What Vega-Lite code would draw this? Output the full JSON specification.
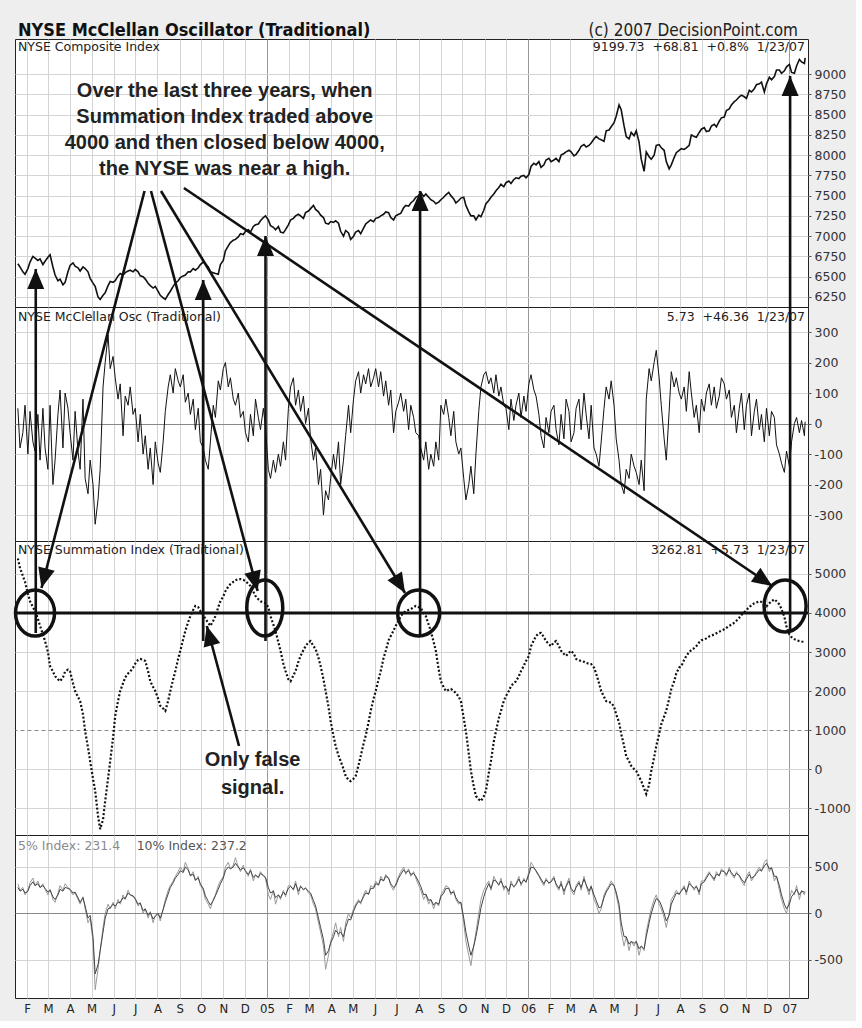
{
"$schema":"https://vega.github.io/schema/vega-lite/v6.json",
"background":"#eeeeee",
"padding":{"left":8,"top":21,"right":5,"bottom":5},
"bounds":"flush",
"spacing":0,
"config":{"view":{"stroke":"#222","strokeWidth":1,"fill":"white"},"axis":{"labelFont":"DejaVu Sans","labelFontSize":12.5,"labelColor":"#333","tickColor":"#555","domain":false,"labelOverlap":false}},
"datasets":{
"m":[
{"d":"2004-01-19","n":6660,"o":50,"s":5400,"a":320,"b":280},
{"d":"2004-01-22","n":6620,"o":-80,"s":5150,"a":250,"b":240},
{"d":"2004-01-26","n":6560,"o":-30,"s":4950,"a":280,"b":260},
{"d":"2004-01-29","n":6530,"o":60,"s":4800,"a":200,"b":220},
{"d":"2004-02-02","n":6600,"o":-100,"s":4500,"a":250,"b":240},
{"d":"2004-02-05","n":6680,"o":40,"s":4300,"a":330,"b":300},
{"d":"2004-02-09","n":6750,"o":-60,"s":4150,"a":380,"b":340},
{"d":"2004-02-12","n":6730,"o":-90,"s":4050,"a":300,"b":300},
{"d":"2004-02-16","n":6700,"o":30,"s":3850,"a":350,"b":320},
{"d":"2004-02-19","n":6720,"o":-120,"s":3670,"a":280,"b":280},
{"d":"2004-02-23","n":6650,"o":50,"s":3450,"a":320,"b":300},
{"d":"2004-02-26","n":6690,"o":-80,"s":3280,"a":260,"b":270},
{"d":"2004-03-01","n":6740,"o":-150,"s":3000,"a":200,"b":230},
{"d":"2004-03-04","n":6770,"o":60,"s":2640,"a":260,"b":250},
{"d":"2004-03-08","n":6620,"o":-200,"s":2500,"a":150,"b":180},
{"d":"2004-03-11","n":6520,"o":-120,"s":2380,"a":120,"b":150},
{"d":"2004-03-15","n":6450,"o":30,"s":2300,"a":220,"b":200},
{"d":"2004-03-18","n":6470,"o":110,"s":2250,"a":300,"b":260},
{"d":"2004-03-22","n":6400,"o":-80,"s":2350,"a":250,"b":240},
{"d":"2004-03-25","n":6430,"o":100,"s":2500,"a":320,"b":280},
{"d":"2004-03-29","n":6560,"o":50,"s":2550,"a":280,"b":270},
{"d":"2004-04-01","n":6640,"o":-30,"s":2500,"a":250,"b":260},
{"d":"2004-04-05","n":6670,"o":-120,"s":2200,"a":200,"b":220},
{"d":"2004-04-08","n":6630,"o":40,"s":2000,"a":220,"b":230},
{"d":"2004-04-12","n":6610,"o":-90,"s":1850,"a":150,"b":170},
{"d":"2004-04-15","n":6570,"o":-150,"s":1740,"a":100,"b":120},
{"d":"2004-04-19","n":6620,"o":80,"s":1400,"a":180,"b":170},
{"d":"2004-04-22","n":6600,"o":-180,"s":970,"a":50,"b":80},
{"d":"2004-04-26","n":6560,"o":-230,"s":550,"a":-100,"b":-50},
{"d":"2004-04-29","n":6480,"o":-120,"s":200,"a":-50,"b":-20},
{"d":"2004-05-03","n":6420,"o":-200,"s":-250,"a":-300,"b":-250},
{"d":"2004-05-06","n":6380,"o":-330,"s":-560,"a":-820,"b":-650},
{"d":"2004-05-10","n":6250,"o":-250,"s":-1200,"a":-600,"b":-550},
{"d":"2004-05-13","n":6220,"o":-150,"s":-1540,"a":-400,"b":-400},
{"d":"2004-05-17","n":6270,"o":120,"s":-1300,"a":-150,"b":-200},
{"d":"2004-05-20","n":6300,"o":200,"s":-820,"a":0,"b":-50},
{"d":"2004-05-24","n":6390,"o":290,"s":-250,"a":100,"b":50},
{"d":"2004-05-27","n":6440,"o":180,"s":200,"a":50,"b":60},
{"d":"2004-05-31","n":6430,"o":220,"s":800,"a":120,"b":100},
{"d":"2004-06-03","n":6450,"o":150,"s":1360,"a":50,"b":80},
{"d":"2004-06-07","n":6510,"o":80,"s":1750,"a":150,"b":120},
{"d":"2004-06-10","n":6540,"o":130,"s":2000,"a":100,"b":120},
{"d":"2004-06-14","n":6520,"o":-40,"s":2200,"a":200,"b":170},
{"d":"2004-06-17","n":6550,"o":90,"s":2350,"a":150,"b":160},
{"d":"2004-06-21","n":6570,"o":60,"s":2450,"a":250,"b":220},
{"d":"2004-06-24","n":6580,"o":120,"s":2500,"a":200,"b":200},
{"d":"2004-06-28","n":6560,"o":30,"s":2600,"a":180,"b":190},
{"d":"2004-07-01","n":6590,"o":50,"s":2700,"a":150,"b":160},
{"d":"2004-07-05","n":6560,"o":-60,"s":2800,"a":80,"b":100},
{"d":"2004-07-08","n":6510,"o":30,"s":2820,"a":120,"b":110},
{"d":"2004-07-12","n":6500,"o":-100,"s":2800,"a":0,"b":30},
{"d":"2004-07-15","n":6470,"o":-40,"s":2770,"a":50,"b":50},
{"d":"2004-07-19","n":6420,"o":-150,"s":2500,"a":-50,"b":-20},
{"d":"2004-07-22","n":6390,"o":-80,"s":2250,"a":20,"b":10},
{"d":"2004-07-26","n":6360,"o":-200,"s":2100,"a":-100,"b":-60},
{"d":"2004-07-29","n":6380,"o":-60,"s":2000,"a":-20,"b":-30},
{"d":"2004-08-02","n":6320,"o":-130,"s":1800,"a":0,"b":0},
{"d":"2004-08-05","n":6270,"o":-160,"s":1620,"a":-80,"b":-50},
{"d":"2004-08-09","n":6240,"o":-60,"s":1550,"a":50,"b":40},
{"d":"2004-08-12","n":6220,"o":40,"s":1490,"a":150,"b":120},
{"d":"2004-08-16","n":6280,"o":120,"s":1750,"a":250,"b":210},
{"d":"2004-08-19","n":6320,"o":160,"s":2000,"a":300,"b":280},
{"d":"2004-08-23","n":6380,"o":100,"s":2300,"a":350,"b":330},
{"d":"2004-08-26","n":6420,"o":180,"s":2510,"a":400,"b":380},
{"d":"2004-08-30","n":6450,"o":140,"s":2830,"a":450,"b":420},
{"d":"2004-09-02","n":6490,"o":120,"s":3030,"a":500,"b":460},
{"d":"2004-09-06","n":6510,"o":160,"s":3330,"a":450,"b":440},
{"d":"2004-09-09","n":6520,"o":70,"s":3540,"a":550,"b":500},
{"d":"2004-09-13","n":6560,"o":100,"s":3770,"a":480,"b":470},
{"d":"2004-09-16","n":6560,"o":30,"s":3920,"a":400,"b":410},
{"d":"2004-09-20","n":6600,"o":80,"s":4080,"a":450,"b":420},
{"d":"2004-09-23","n":6580,"o":-20,"s":4180,"a":350,"b":360},
{"d":"2004-09-27","n":6610,"o":50,"s":4150,"a":400,"b":380},
{"d":"2004-09-30","n":6650,"o":-60,"s":4050,"a":300,"b":320},
{"d":"2004-10-04","n":6680,"o":-80,"s":3950,"a":250,"b":270},
{"d":"2004-10-07","n":6660,"o":-120,"s":3850,"a":150,"b":190},
{"d":"2004-10-11","n":6620,"o":-150,"s":3750,"a":100,"b":130},
{"d":"2004-10-14","n":6560,"o":-60,"s":3670,"a":50,"b":90},
{"d":"2004-10-18","n":6550,"o":60,"s":3800,"a":150,"b":140},
{"d":"2004-10-21","n":6540,"o":20,"s":3920,"a":200,"b":190},
{"d":"2004-10-25","n":6530,"o":140,"s":4150,"a":300,"b":260},
{"d":"2004-10-28","n":6650,"o":110,"s":4300,"a":350,"b":320},
{"d":"2004-11-01","n":6700,"o":180,"s":4430,"a":400,"b":380},
{"d":"2004-11-04","n":6820,"o":200,"s":4560,"a":500,"b":460},
{"d":"2004-11-08","n":6880,"o":120,"s":4680,"a":550,"b":500},
{"d":"2004-11-11","n":6920,"o":150,"s":4740,"a":480,"b":480},
{"d":"2004-11-15","n":6950,"o":80,"s":4800,"a":520,"b":500},
{"d":"2004-11-18","n":6960,"o":60,"s":4840,"a":600,"b":540},
{"d":"2004-11-22","n":6990,"o":100,"s":4870,"a":500,"b":500},
{"d":"2004-11-25","n":7030,"o":20,"s":4870,"a":450,"b":470},
{"d":"2004-11-29","n":7020,"o":40,"s":4850,"a":520,"b":490},
{"d":"2004-12-02","n":7060,"o":-30,"s":4820,"a":450,"b":460},
{"d":"2004-12-06","n":7080,"o":-60,"s":4750,"a":400,"b":420},
{"d":"2004-12-09","n":7050,"o":30,"s":4690,"a":480,"b":460},
{"d":"2004-12-13","n":7120,"o":-40,"s":4550,"a":350,"b":390},
{"d":"2004-12-16","n":7140,"o":80,"s":4440,"a":420,"b":410},
{"d":"2004-12-20","n":7150,"o":20,"s":4350,"a":380,"b":390},
{"d":"2004-12-23","n":7190,"o":-20,"s":4300,"a":450,"b":430},
{"d":"2004-12-27","n":7230,"o":50,"s":4270,"a":400,"b":410},
{"d":"2004-12-30","n":7250,"o":-10,"s":4250,"a":380,"b":390},
{"d":"2005-01-03","n":7200,"o":-150,"s":4150,"a":200,"b":280},
{"d":"2005-01-06","n":7130,"o":-180,"s":3920,"a":150,"b":220},
{"d":"2005-01-10","n":7110,"o":-120,"s":3700,"a":250,"b":240},
{"d":"2005-01-13","n":7080,"o":-160,"s":3540,"a":100,"b":170},
{"d":"2005-01-17","n":7120,"o":-100,"s":3250,"a":200,"b":200},
{"d":"2005-01-20","n":7050,"o":-140,"s":3030,"a":150,"b":170},
{"d":"2005-01-24","n":7040,"o":-60,"s":2700,"a":250,"b":230},
{"d":"2005-01-27","n":7080,"o":-120,"s":2510,"a":180,"b":200},
{"d":"2005-01-31","n":7140,"o":50,"s":2300,"a":300,"b":270},
{"d":"2005-02-03","n":7200,"o":120,"s":2250,"a":300,"b":290},
{"d":"2005-02-07","n":7220,"o":150,"s":2400,"a":250,"b":260},
{"d":"2005-02-10","n":7250,"o":60,"s":2510,"a":350,"b":320},
{"d":"2005-02-14","n":7270,"o":110,"s":2750,"a":200,"b":240},
{"d":"2005-02-17","n":7250,"o":40,"s":2900,"a":300,"b":290},
{"d":"2005-02-21","n":7220,"o":90,"s":3050,"a":250,"b":260},
{"d":"2005-02-24","n":7290,"o":0,"s":3150,"a":280,"b":270},
{"d":"2005-02-28","n":7310,"o":50,"s":3250,"a":220,"b":240},
{"d":"2005-03-03","n":7340,"o":-50,"s":3280,"a":200,"b":220},
{"d":"2005-03-07","n":7380,"o":-120,"s":3150,"a":100,"b":140},
{"d":"2005-03-10","n":7330,"o":-80,"s":3080,"a":50,"b":80},
{"d":"2005-03-14","n":7300,"o":-200,"s":2850,"a":-100,"b":-50},
{"d":"2005-03-17","n":7260,"o":-150,"s":2640,"a":-200,"b":-150},
{"d":"2005-03-21","n":7230,"o":-300,"s":2300,"a":-350,"b":-280},
{"d":"2005-03-24","n":7160,"o":-220,"s":2000,"a":-600,"b":-450},
{"d":"2005-03-28","n":7150,"o":-250,"s":1600,"a":-450,"b":-400},
{"d":"2005-03-31","n":7180,"o":-180,"s":1230,"a":-300,"b":-320},
{"d":"2005-04-04","n":7170,"o":-100,"s":850,"a":-200,"b":-250},
{"d":"2005-04-07","n":7190,"o":-150,"s":590,"a":-100,"b":-180},
{"d":"2005-04-11","n":7160,"o":-60,"s":350,"a":-250,"b":-220},
{"d":"2005-04-14","n":7060,"o":-200,"s":200,"a":-150,"b":-200},
{"d":"2005-04-18","n":7000,"o":-120,"s":0,"a":-300,"b":-250},
{"d":"2005-04-21","n":7070,"o":-40,"s":-180,"a":-100,"b":-150},
{"d":"2005-04-25","n":7040,"o":60,"s":-280,"a":0,"b":-60},
{"d":"2005-04-28","n":6960,"o":-30,"s":-310,"a":-50,"b":-70},
{"d":"2005-05-02","n":7000,"o":80,"s":-250,"a":50,"b":20},
{"d":"2005-05-05","n":7050,"o":140,"s":-180,"a":100,"b":80},
{"d":"2005-05-09","n":7070,"o":170,"s":100,"a":150,"b":130},
{"d":"2005-05-12","n":7030,"o":100,"s":330,"a":100,"b":120},
{"d":"2005-05-16","n":7100,"o":160,"s":650,"a":200,"b":180},
{"d":"2005-05-19","n":7150,"o":130,"s":850,"a":250,"b":220},
{"d":"2005-05-23","n":7180,"o":180,"s":1200,"a":200,"b":210},
{"d":"2005-05-26","n":7200,"o":120,"s":1490,"a":300,"b":270},
{"d":"2005-05-30","n":7180,"o":150,"s":1800,"a":280,"b":270},
{"d":"2005-06-02","n":7220,"o":180,"s":2000,"a":350,"b":320},
{"d":"2005-06-06","n":7230,"o":120,"s":2300,"a":300,"b":310},
{"d":"2005-06-09","n":7250,"o":170,"s":2510,"a":400,"b":370},
{"d":"2005-06-13","n":7270,"o":90,"s":2850,"a":350,"b":350},
{"d":"2005-06-16","n":7300,"o":140,"s":3030,"a":420,"b":400},
{"d":"2005-06-20","n":7290,"o":60,"s":3300,"a":380,"b":380},
{"d":"2005-06-23","n":7230,"o":110,"s":3410,"a":300,"b":320},
{"d":"2005-06-27","n":7200,"o":-30,"s":3550,"a":250,"b":280},
{"d":"2005-06-30","n":7250,"o":40,"s":3670,"a":320,"b":300},
{"d":"2005-07-04","n":7270,"o":70,"s":3800,"a":400,"b":380},
{"d":"2005-07-07","n":7280,"o":100,"s":3920,"a":450,"b":420},
{"d":"2005-07-11","n":7350,"o":40,"s":4000,"a":500,"b":470},
{"d":"2005-07-14","n":7380,"o":80,"s":4050,"a":420,"b":440},
{"d":"2005-07-18","n":7370,"o":-20,"s":4080,"a":480,"b":460},
{"d":"2005-07-21","n":7410,"o":60,"s":4100,"a":400,"b":420},
{"d":"2005-07-25","n":7440,"o":20,"s":4150,"a":450,"b":430},
{"d":"2005-07-28","n":7480,"o":-30,"s":4180,"a":380,"b":400},
{"d":"2005-08-01","n":7500,"o":-40,"s":4150,"a":300,"b":340},
{"d":"2005-08-04","n":7540,"o":-80,"s":4130,"a":250,"b":290},
{"d":"2005-08-08","n":7490,"o":-120,"s":4000,"a":150,"b":200},
{"d":"2005-08-11","n":7520,"o":-60,"s":3920,"a":200,"b":210},
{"d":"2005-08-15","n":7480,"o":-150,"s":3700,"a":100,"b":140},
{"d":"2005-08-18","n":7450,"o":-100,"s":3540,"a":150,"b":150},
{"d":"2005-08-22","n":7430,"o":-140,"s":3250,"a":50,"b":90},
{"d":"2005-08-25","n":7400,"o":-60,"s":3030,"a":120,"b":120},
{"d":"2005-08-29","n":7420,"o":-120,"s":2550,"a":80,"b":100},
{"d":"2005-09-01","n":7450,"o":60,"s":2250,"a":200,"b":180},
{"d":"2005-09-05","n":7480,"o":30,"s":2100,"a":250,"b":220},
{"d":"2005-09-08","n":7510,"o":80,"s":2000,"a":300,"b":270},
{"d":"2005-09-12","n":7540,"o":20,"s":2030,"a":280,"b":270},
{"d":"2005-09-15","n":7500,"o":-40,"s":2050,"a":200,"b":220},
{"d":"2005-09-19","n":7460,"o":40,"s":2000,"a":250,"b":230},
{"d":"2005-09-22","n":7410,"o":-60,"s":1950,"a":150,"b":170},
{"d":"2005-09-26","n":7440,"o":-100,"s":1850,"a":100,"b":120},
{"d":"2005-09-29","n":7470,"o":-80,"s":1740,"a":120,"b":120},
{"d":"2005-10-03","n":7480,"o":-180,"s":1300,"a":-100,"b":-50},
{"d":"2005-10-06","n":7380,"o":-250,"s":970,"a":-300,"b":-200},
{"d":"2005-10-10","n":7300,"o":-200,"s":400,"a":-450,"b":-350},
{"d":"2005-10-13","n":7250,"o":-140,"s":-50,"a":-560,"b":-450},
{"d":"2005-10-17","n":7250,"o":-230,"s":-450,"a":-350,"b":-350},
{"d":"2005-10-20","n":7200,"o":-100,"s":-690,"a":-200,"b":-250},
{"d":"2005-10-24","n":7260,"o":40,"s":-780,"a":0,"b":-80},
{"d":"2005-10-27","n":7240,"o":120,"s":-820,"a":150,"b":60},
{"d":"2005-10-31","n":7320,"o":160,"s":-700,"a":250,"b":180},
{"d":"2005-11-03","n":7400,"o":170,"s":-560,"a":300,"b":250},
{"d":"2005-11-07","n":7440,"o":130,"s":-100,"a":350,"b":320},
{"d":"2005-11-10","n":7480,"o":150,"s":200,"a":250,"b":270},
{"d":"2005-11-14","n":7520,"o":100,"s":700,"a":400,"b":360},
{"d":"2005-11-17","n":7560,"o":160,"s":970,"a":350,"b":350},
{"d":"2005-11-21","n":7600,"o":90,"s":1300,"a":300,"b":310},
{"d":"2005-11-24","n":7640,"o":120,"s":1490,"a":380,"b":350},
{"d":"2005-11-28","n":7610,"o":60,"s":1750,"a":250,"b":280},
{"d":"2005-12-01","n":7660,"o":50,"s":1870,"a":300,"b":290},
{"d":"2005-12-05","n":7680,"o":-20,"s":2000,"a":200,"b":240},
{"d":"2005-12-08","n":7650,"o":80,"s":2130,"a":350,"b":320},
{"d":"2005-12-12","n":7700,"o":10,"s":2200,"a":280,"b":290},
{"d":"2005-12-15","n":7720,"o":60,"s":2250,"a":320,"b":310},
{"d":"2005-12-19","n":7710,"o":100,"s":2380,"a":400,"b":370},
{"d":"2005-12-22","n":7740,"o":20,"s":2510,"a":300,"b":320},
{"d":"2005-12-26","n":7750,"o":90,"s":2650,"a":380,"b":360},
{"d":"2005-12-29","n":7720,"o":40,"s":2770,"a":330,"b":340},
{"d":"2006-01-02","n":7760,"o":130,"s":2900,"a":450,"b":420},
{"d":"2006-01-05","n":7860,"o":160,"s":3150,"a":550,"b":500},
{"d":"2006-01-09","n":7900,"o":110,"s":3300,"a":500,"b":490},
{"d":"2006-01-12","n":7880,"o":90,"s":3410,"a":450,"b":460},
{"d":"2006-01-16","n":7920,"o":30,"s":3480,"a":400,"b":410},
{"d":"2006-01-19","n":7850,"o":-40,"s":3490,"a":350,"b":370},
{"d":"2006-01-23","n":7880,"o":-80,"s":3380,"a":300,"b":320},
{"d":"2006-01-26","n":7940,"o":20,"s":3280,"a":380,"b":360},
{"d":"2006-01-30","n":7960,"o":-30,"s":3200,"a":320,"b":330},
{"d":"2006-02-02","n":7920,"o":40,"s":3150,"a":350,"b":340},
{"d":"2006-02-06","n":7940,"o":60,"s":3250,"a":400,"b":380},
{"d":"2006-02-09","n":7960,"o":-20,"s":3280,"a":300,"b":320},
{"d":"2006-02-13","n":7920,"o":-70,"s":3150,"a":250,"b":270},
{"d":"2006-02-16","n":8000,"o":30,"s":3030,"a":350,"b":320},
{"d":"2006-02-20","n":8020,"o":-50,"s":2950,"a":200,"b":240},
{"d":"2006-02-23","n":8040,"o":80,"s":2900,"a":300,"b":290},
{"d":"2006-02-27","n":8060,"o":40,"s":2980,"a":380,"b":350},
{"d":"2006-03-02","n":8040,"o":-60,"s":3030,"a":250,"b":270},
{"d":"2006-03-06","n":7990,"o":-30,"s":2950,"a":200,"b":230},
{"d":"2006-03-09","n":8010,"o":50,"s":2820,"a":300,"b":280},
{"d":"2006-03-13","n":8060,"o":80,"s":2790,"a":350,"b":330},
{"d":"2006-03-16","n":8110,"o":-20,"s":2770,"a":250,"b":280},
{"d":"2006-03-20","n":8130,"o":100,"s":2750,"a":400,"b":370},
{"d":"2006-03-23","n":8100,"o":30,"s":2720,"a":300,"b":310},
{"d":"2006-03-27","n":8120,"o":-50,"s":2700,"a":200,"b":240},
{"d":"2006-03-30","n":8150,"o":60,"s":2690,"a":300,"b":290},
{"d":"2006-04-03","n":8200,"o":-80,"s":2600,"a":150,"b":200},
{"d":"2006-04-06","n":8230,"o":-100,"s":2450,"a":100,"b":140},
{"d":"2006-04-10","n":8200,"o":-140,"s":2200,"a":0,"b":60},
{"d":"2006-04-13","n":8190,"o":-60,"s":2000,"a":50,"b":70},
{"d":"2006-04-17","n":8170,"o":50,"s":1850,"a":200,"b":170},
{"d":"2006-04-20","n":8300,"o":120,"s":1740,"a":250,"b":230},
{"d":"2006-04-24","n":8310,"o":80,"s":1720,"a":300,"b":280},
{"d":"2006-04-27","n":8350,"o":140,"s":1700,"a":350,"b":320},
{"d":"2006-05-01","n":8400,"o":60,"s":1600,"a":300,"b":300},
{"d":"2006-05-04","n":8480,"o":-50,"s":1400,"a":200,"b":230},
{"d":"2006-05-08","n":8620,"o":-120,"s":1200,"a":50,"b":100},
{"d":"2006-05-11","n":8560,"o":-200,"s":900,"a":-200,"b":-100},
{"d":"2006-05-15","n":8360,"o":-230,"s":600,"a":-350,"b":-250},
{"d":"2006-05-18","n":8230,"o":-150,"s":330,"a":-250,"b":-250},
{"d":"2006-05-22","n":8200,"o":-180,"s":200,"a":-400,"b":-330},
{"d":"2006-05-25","n":8280,"o":-100,"s":80,"a":-300,"b":-300},
{"d":"2006-05-29","n":8240,"o":-140,"s":0,"a":-350,"b":-320},
{"d":"2006-06-01","n":8300,"o":-160,"s":-50,"a":-300,"b":-300},
{"d":"2006-06-05","n":8160,"o":-200,"s":-200,"a":-450,"b":-380},
{"d":"2006-06-08","n":7950,"o":-120,"s":-310,"a":-350,"b":-350},
{"d":"2006-06-12","n":7800,"o":-220,"s":-500,"a":-400,"b":-380},
{"d":"2006-06-15","n":8040,"o":80,"s":-640,"a":-200,"b":-250},
{"d":"2006-06-19","n":7980,"o":180,"s":-400,"a":-50,"b":-100},
{"d":"2006-06-22","n":7950,"o":140,"s":-50,"a":50,"b":0},
{"d":"2006-06-26","n":8000,"o":200,"s":300,"a":150,"b":100},
{"d":"2006-06-29","n":8120,"o":240,"s":590,"a":200,"b":160},
{"d":"2006-07-03","n":8130,"o":150,"s":900,"a":100,"b":140},
{"d":"2006-07-06","n":8090,"o":60,"s":1150,"a":50,"b":90},
{"d":"2006-07-10","n":8060,"o":-50,"s":1350,"a":-50,"b":0},
{"d":"2006-07-13","n":7920,"o":-120,"s":1500,"a":-150,"b":-80},
{"d":"2006-07-17","n":7830,"o":40,"s":1800,"a":0,"b":-20},
{"d":"2006-07-20","n":7880,"o":170,"s":2050,"a":150,"b":100},
{"d":"2006-07-24","n":7970,"o":120,"s":2250,"a":200,"b":170},
{"d":"2006-07-27","n":8030,"o":150,"s":2450,"a":250,"b":220},
{"d":"2006-07-31","n":8060,"o":100,"s":2600,"a":200,"b":210},
{"d":"2006-08-03","n":8080,"o":80,"s":2640,"a":250,"b":240},
{"d":"2006-08-07","n":8070,"o":120,"s":2800,"a":300,"b":280},
{"d":"2006-08-10","n":8090,"o":40,"s":2900,"a":200,"b":230},
{"d":"2006-08-14","n":8120,"o":170,"s":3000,"a":350,"b":320},
{"d":"2006-08-17","n":8250,"o":100,"s":3050,"a":300,"b":300},
{"d":"2006-08-21","n":8230,"o":20,"s":3100,"a":250,"b":270},
{"d":"2006-08-24","n":8220,"o":60,"s":3150,"a":300,"b":290},
{"d":"2006-08-28","n":8280,"o":-30,"s":3250,"a":200,"b":230},
{"d":"2006-08-31","n":8320,"o":80,"s":3300,"a":350,"b":320},
{"d":"2006-09-04","n":8340,"o":40,"s":3320,"a":350,"b":340},
{"d":"2006-09-07","n":8290,"o":100,"s":3350,"a":400,"b":380},
{"d":"2006-09-11","n":8300,"o":130,"s":3400,"a":450,"b":430},
{"d":"2006-09-14","n":8360,"o":60,"s":3420,"a":400,"b":410},
{"d":"2006-09-18","n":8380,"o":120,"s":3450,"a":350,"b":370},
{"d":"2006-09-21","n":8350,"o":50,"s":3480,"a":450,"b":420},
{"d":"2006-09-25","n":8420,"o":90,"s":3520,"a":400,"b":410},
{"d":"2006-09-28","n":8460,"o":150,"s":3550,"a":480,"b":460},
{"d":"2006-10-02","n":8470,"o":130,"s":3580,"a":450,"b":450},
{"d":"2006-10-05","n":8550,"o":80,"s":3620,"a":400,"b":420},
{"d":"2006-10-09","n":8570,"o":110,"s":3670,"a":500,"b":470},
{"d":"2006-10-12","n":8620,"o":20,"s":3700,"a":420,"b":440},
{"d":"2006-10-16","n":8660,"o":60,"s":3750,"a":380,"b":400},
{"d":"2006-10-19","n":8680,"o":-30,"s":3800,"a":450,"b":430},
{"d":"2006-10-23","n":8720,"o":50,"s":3880,"a":400,"b":410},
{"d":"2006-10-26","n":8740,"o":100,"s":3950,"a":350,"b":370},
{"d":"2006-10-30","n":8720,"o":-20,"s":4020,"a":300,"b":330},
{"d":"2006-11-02","n":8700,"o":60,"s":4080,"a":400,"b":370},
{"d":"2006-11-06","n":8800,"o":100,"s":4150,"a":450,"b":420},
{"d":"2006-11-09","n":8780,"o":-40,"s":4200,"a":350,"b":380},
{"d":"2006-11-13","n":8820,"o":40,"s":4250,"a":400,"b":400},
{"d":"2006-11-16","n":8870,"o":80,"s":4270,"a":450,"b":430},
{"d":"2006-11-20","n":8880,"o":-20,"s":4300,"a":500,"b":470},
{"d":"2006-11-23","n":8900,"o":30,"s":4280,"a":450,"b":460},
{"d":"2006-11-27","n":8780,"o":-60,"s":4200,"a":550,"b":510},
{"d":"2006-11-30","n":8880,"o":50,"s":4170,"a":580,"b":540},
{"d":"2006-12-04","n":8960,"o":-40,"s":4250,"a":450,"b":480},
{"d":"2006-12-07","n":8930,"o":40,"s":4300,"a":500,"b":490},
{"d":"2006-12-11","n":8970,"o":20,"s":4350,"a":350,"b":400},
{"d":"2006-12-14","n":9050,"o":-70,"s":4300,"a":400,"b":400},
{"d":"2006-12-18","n":9050,"o":-100,"s":4220,"a":250,"b":300},
{"d":"2006-12-21","n":9010,"o":-130,"s":4100,"a":150,"b":200},
{"d":"2006-12-25","n":9040,"o":-160,"s":3900,"a":50,"b":100},
{"d":"2006-12-28","n":9090,"o":-90,"s":3650,"a":0,"b":50},
{"d":"2007-01-01","n":9120,"o":-140,"s":3450,"a":150,"b":100},
{"d":"2007-01-04","n":9020,"o":-60,"s":3380,"a":250,"b":180},
{"d":"2007-01-08","n":9010,"o":0,"s":3330,"a":200,"b":220},
{"d":"2007-01-11","n":9100,"o":20,"s":3300,"a":300,"b":260},
{"d":"2007-01-15","n":9180,"o":-30,"s":3280,"a":150,"b":200},
{"d":"2007-01-18","n":9150,"o":10,"s":3270,"a":250,"b":240},
{"d":"2007-01-22","n":9130,"o":-40,"s":3260,"a":200,"b":230},
{"d":"2007-01-23","n":9200,"o":6,"s":3263,"a":231,"b":237}
],
"arrows":[
{"id":"L1","d1":"2004-07-14","v1":14820,"d2":"2004-02-21","v2":4641},
{"id":"L2","d1":"2004-07-23","v1":14820,"d2":"2004-12-19","v2":4564},
{"id":"L3","d1":"2004-08-06","v1":14820,"d2":"2005-07-13","v2":4513},
{"id":"L4","d1":"2004-09-07","v1":14897,"d2":"2006-12-08","v2":4692},
{"id":"F","d1":"2004-11-23","v1":590,"d2":"2004-10-09","v2":3667},
{"id":"A","d1":"2004-02-13","v1":3487,"d2":"2004-02-13","v2":12820},
{"id":"B","d1":"2004-10-04","v1":3282,"d2":"2004-10-04","v2":12538},
{"id":"C","d1":"2004-12-30","v1":3282,"d2":"2004-12-30","v2":13666},
{"id":"D","d1":"2005-08-03","v1":3410,"d2":"2005-08-03","v2":14820},
{"id":"E","d1":"2007-01-02","v1":3538,"d2":"2007-01-02","v2":17770}
],
"circles":[
{"id":"C1","d":"2004-02-12","v":4000},
{"id":"C2","d":"2004-12-29","v":4128},
{"id":"C3","d":"2005-08-01","v":4000},
{"id":"C4","d":"2006-12-26","v":4180}
]
},
"vconcat":[
{
"width":793,"height":268,
"resolve":{"axis":{"x":"independent","y":"independent"}},
"layer":[
{"data":{"name":"m"},"mark":{"type":"line","color":"#111","strokeWidth":1.6},
 "encoding":{
  "x":{"field":"d","type":"temporal","title":null,"scale":{"type":"utc","domain":[{"year":2004,"month":1,"date":15,"utc":true},{"year":2007,"month":1,"date":27,"utc":true}],"nice":false},
   "axis":{"orient":"bottom","labels":false,"ticks":false,"domain":false,"title":null,"grid":true,"tickCount":{"interval":"month","step":1},"gridColor":{"condition":{"test":"utcmonth(datum.value)===0","value":"#999999"},"value":"#d4d4d4"}}},
  "y":{"field":"n","type":"quantitative","title":null,"scale":{"domain":[6126,9433],"nice":false,"zero":false},
   "axis":{"orient":"right","values":[6250,6500,6750,7000,7250,7500,7750,8000,8250,8500,8750,9000],"labelExpr":"'' + datum.value","labelOverlap":false,"grid":true,"gridColor":"#d4d4d4","tickSize":3,"labelPadding":3,"domain":false,"title":null}}
 }},
{"data":{"values":[{}]},"mark":{"type":"text","text":"NYSE McClellan Oscillator (Traditional)","align":"left","baseline":"middle","dx":3,"font":"Liberation Sans Narrow, DejaVu Sans Condensed, sans-serif","fontSize":18,"fontWeight":"bold","color":"#111"},
 "encoding":{"x":{"datum":{"year":2004,"month":1,"date":15,"utc":true},"type":"temporal","axis":null},"y":{"datum":9532,"type":"quantitative","axis":null}}},
{"data":{"values":[{}]},"mark":{"type":"text","text":"NYSE Composite Index","align":"left","baseline":"middle","dx":3,"font":"DejaVu Sans","fontSize":12.5,"color":"#222"},
 "encoding":{"x":{"datum":{"year":2004,"month":1,"date":15,"utc":true},"type":"temporal","axis":null},"y":{"datum":9334,"type":"quantitative","axis":null}}},
{"data":{"values":[{}]},"mark":{"type":"text","text":"9199.73 \u00a0+68.81 \u00a0+0.8% \u00a01/23/07","align":"right","baseline":"middle","dx":-3,"font":"DejaVu Sans","fontSize":12.5,"color":"#222"},
 "encoding":{"x":{"datum":{"year":2007,"month":1,"date":27,"utc":true},"type":"temporal","axis":null},"y":{"datum":9334,"type":"quantitative","axis":null}}},
{"data":{"values":[{}]},"mark":{"type":"text","text":"(c) 2007 DecisionPoint.com","align":"right","baseline":"middle","dx":-10,"font":"Liberation Sans Narrow, DejaVu Sans Condensed, sans-serif","fontSize":17,"color":"#222"},
 "encoding":{"x":{"datum":{"year":2007,"month":1,"date":27,"utc":true},"type":"temporal","axis":null},"y":{"datum":9532,"type":"quantitative","axis":null}}},
{"data":{"values":[{}]},"mark":{"type":"text","text":["Over the last three years, when","Summation Index traded above","4000 and then closed below 4000,","the NYSE was near a high."],"align":"center","baseline":"middle","lineHeight":26,"font":"Liberation Sans, Arial, sans-serif","fontWeight":"bold","fontSize":20,"color":"#222"},
 "encoding":{"x":{"datum":{"year":2004,"month":11,"date":3,"utc":true},"type":"temporal","axis":null},"y":{"datum":8790,"type":"quantitative","axis":null}}}
]
},
{
"width":793,"height":234,
"resolve":{"axis":{"x":"independent","y":"independent"}},
"layer":[
{"data":{"name":"m"},"mark":{"type":"line","color":"#111","strokeWidth":1},
 "encoding":{
  "x":{"field":"d","type":"temporal","title":null,"scale":{"type":"utc","domain":[{"year":2004,"month":1,"date":15,"utc":true},{"year":2007,"month":1,"date":27,"utc":true}],"nice":false},
   "axis":{"orient":"bottom","labels":false,"ticks":false,"domain":false,"title":null,"grid":true,"tickCount":{"interval":"month","step":1},"gridColor":{"condition":{"test":"utcmonth(datum.value)===0","value":"#999999"},"value":"#d4d4d4"}}},
  "y":{"field":"o","type":"quantitative","title":null,"scale":{"domain":[-385,382],"nice":false,"zero":false},
   "axis":{"orient":"right","values":[-300,-200,-100,0,100,200,300],"labelExpr":"'' + datum.value","labelOverlap":false,"grid":true,"gridColor":{"condition":{"test":"datum.value===0","value":"#888888"},"value":"#d4d4d4"},"tickSize":3,"labelPadding":3,"domain":false,"title":null}}
 }},
{"data":{"values":[{}]},"mark":{"type":"text","text":"NYSE McClellan Osc (Traditional)","align":"left","baseline":"middle","dx":3,"font":"DejaVu Sans","fontSize":12.5,"color":"#222"},
 "encoding":{"x":{"datum":{"year":2004,"month":1,"date":15,"utc":true},"type":"temporal","axis":null},"y":{"datum":349,"type":"quantitative","axis":null}}},
{"data":{"values":[{}]},"mark":{"type":"text","text":"5.73 \u00a0+46.36 \u00a01/23/07","align":"right","baseline":"middle","dx":-3,"font":"DejaVu Sans","fontSize":12.5,"color":"#222"},
 "encoding":{"x":{"datum":{"year":2007,"month":1,"date":27,"utc":true},"type":"temporal","axis":null},"y":{"datum":349,"type":"quantitative","axis":null}}}
]
},
{
"width":793,"height":294,
"resolve":{"scale":{"shape":"independent"},"axis":{"x":"independent","y":"independent"}},
"layer":[
{"data":{"name":"m"},"mark":{"type":"line","color":"#111","strokeWidth":2.2,"strokeDash":[2,2]},
 "encoding":{
  "x":{"field":"d","type":"temporal","title":null,"scale":{"type":"utc","domain":[{"year":2004,"month":1,"date":15,"utc":true},{"year":2007,"month":1,"date":27,"utc":true}],"nice":false},
   "axis":{"orient":"bottom","labels":false,"ticks":false,"domain":false,"title":null,"grid":true,"tickCount":{"interval":"month","step":1},"gridColor":{"condition":{"test":"utcmonth(datum.value)===0","value":"#999999"},"value":"#d4d4d4"}}},
  "y":{"field":"s","type":"quantitative","title":null,"scale":{"domain":[-1692,5846],"nice":false,"zero":false},
   "axis":{"orient":"right","values":[-1000,0,1000,2000,3000,4000,5000],"labelExpr":"'' + datum.value","labelOverlap":false,"grid":true,"gridColor":{"condition":{"test":"datum.value===1000","value":"#888888"},"value":"#d4d4d4"},"gridDash":{"condition":{"test":"datum.value===1000","value":[4,3]},"value":[]},"tickSize":3,"labelPadding":3,"domain":false,"title":null}}
 }},
{"data":{"values":[{}]},"mark":{"type":"rule","color":"#111","strokeWidth":3},
 "encoding":{"y":{"datum":4000,"type":"quantitative","axis":null}}},
{"data":{"values":[{}]},"mark":{"type":"text","text":"NYSE Summation Index (Traditional)","align":"left","baseline":"middle","dx":3,"font":"DejaVu Sans","fontSize":12.5,"color":"#222"},
 "encoding":{"x":{"datum":{"year":2004,"month":1,"date":15,"utc":true},"type":"temporal","axis":null},"y":{"datum":5615,"type":"quantitative","axis":null}}},
{"data":{"values":[{}]},"mark":{"type":"text","text":"3262.81 \u00a0+5.73 \u00a01/23/07","align":"right","baseline":"middle","dx":-3,"font":"DejaVu Sans","fontSize":12.5,"color":"#222"},
 "encoding":{"x":{"datum":{"year":2007,"month":1,"date":27,"utc":true},"type":"temporal","axis":null},"y":{"datum":5615,"type":"quantitative","axis":null}}},
{"data":{"values":[{}]},"mark":{"type":"text","text":["Only false","signal."],"align":"center","baseline":"middle","lineHeight":28,"font":"Liberation Sans, Arial, sans-serif","fontWeight":"bold","fontSize":20,"color":"#222"},
 "encoding":{"x":{"datum":{"year":2004,"month":12,"date":12,"utc":true},"type":"temporal","axis":null},"y":{"datum":231,"type":"quantitative","axis":null}}},
{"data":{"name":"arrows"},"mark":{"type":"rule","color":"#111","strokeWidth":2.6},
 "encoding":{"x":{"field":"d1","type":"temporal","axis":null},"y":{"field":"v1","type":"quantitative","axis":null},"x2":{"field":"d2"},"y2":{"field":"v2"}}},
{"data":{"name":"arrows"},"mark":{"type":"point","filled":true,"color":"#111","opacity":1,"size":400,"strokeWidth":0},
 "encoding":{"x":{"field":"d2","type":"temporal","axis":null},"y":{"field":"v2","type":"quantitative","axis":null},
  "shape":{"field":"id","type":"nominal","legend":null,"scale":{"domain":["L1","L2","L3","L4","F","A","B","C","D","E"],"range":["M0,0L1.32,-1.72L-0.32,-2.15Z","M0,0L0.31,-2.15L-1.33,-1.72Z","M0,0L-0.31,-2.15L-1.76,-1.27Z","M0,0L-1.18,-1.83L-2.13,-0.42Z","M0,0L-0.31,2.15L1.34,1.71Z","M0,0L-0.85,2L0.85,2Z","M0,0L-0.85,2L0.85,2Z","M0,0L-0.85,2L0.85,2Z","M0,0L-0.85,2L0.85,2Z","M0,0L-0.85,2L0.85,2Z"]}}}},
{"data":{"name":"circles"},"mark":{"type":"point","filled":false,"color":"#111","opacity":1,"size":400,"strokeWidth":3.5},
 "encoding":{"x":{"field":"d","type":"temporal","axis":null},"y":{"field":"v","type":"quantitative","axis":null},
  "shape":{"field":"id","type":"nominal","legend":null,"scale":{"domain":["C1","C2","C3","C4"],"range":["M0,-2.3A1.95,2.3 0 1,1 0,2.3A1.95,2.3 0 1,1 0,-2.3Z","M0,-2.8A1.8,2.8 0 1,1 0,2.8A1.8,2.8 0 1,1 0,-2.8Z","M0,-2.3A2.1,2.3 0 1,1 0,2.3A2.1,2.3 0 1,1 0,-2.3Z","M0,-2.6A2.1,2.6 0 1,1 0,2.6A2.1,2.6 0 1,1 0,-2.6Z"]}}}}
]
},
{
"width":793,"height":163,
"resolve":{"axis":{"x":"independent","y":"independent"}},
"layer":[
{"data":{"name":"m"},"mark":{"type":"line","color":"#9a9a9a","strokeWidth":1},
 "encoding":{
  "x":{"field":"d","type":"temporal","title":null,"scale":{"type":"utc","domain":[{"year":2004,"month":1,"date":15,"utc":true},{"year":2007,"month":1,"date":27,"utc":true}],"nice":false},
   "axis":{"orient":"bottom","labels":true,"ticks":false,"domain":false,"title":null,"grid":true,"tickCount":{"interval":"month","step":1},"gridColor":{"condition":{"test":"utcmonth(datum.value)===0","value":"#999999"},"value":"#d4d4d4"},"labelExpr":"utcmonth(datum.value)===0 ? utcFormat(datum.value,'%y') : substring(utcFormat(datum.value,'%b'),0,1)","labelFont":"Liberation Sans Narrow, DejaVu Sans Condensed, sans-serif","labelFontSize":13,"labelColor":"#222","labelPadding":4,"labelOverlap":false}},
  "y":{"field":"a","type":"quantitative","title":null,"scale":{"domain":[-909,844],"nice":false,"zero":false},
   "axis":{"orient":"right","values":[-500,0,500],"labelExpr":"'' + datum.value","labelOverlap":false,"grid":true,"gridColor":{"condition":{"test":"datum.value===0","value":"#888888"},"value":"#d4d4d4"},"tickSize":3,"labelPadding":3,"domain":false,"title":null}}
 }},
{"data":{"name":"m"},"mark":{"type":"line","color":"#444444","strokeWidth":1},
 "encoding":{"x":{"field":"d","type":"temporal","axis":null},"y":{"field":"b","type":"quantitative","axis":null}}},
{"data":{"values":[{}]},"mark":{"type":"text","text":"5% Index: 231.4","align":"left","baseline":"middle","dx":3,"font":"DejaVu Sans","fontSize":12.5,"color":"#8a8a8a"},
 "encoding":{"x":{"datum":{"year":2004,"month":1,"date":15,"utc":true},"type":"temporal","axis":null},"y":{"datum":726,"type":"quantitative","axis":null}}},
{"data":{"values":[{}]},"mark":{"type":"text","text":"10% Index: 237.2","align":"left","baseline":"middle","font":"DejaVu Sans","fontSize":12.5,"color":"#555555"},
 "encoding":{"x":{"datum":{"year":2004,"month":7,"date":3,"utc":true},"type":"temporal","axis":null},"y":{"datum":726,"type":"quantitative","axis":null}}}
]
}
]
}
